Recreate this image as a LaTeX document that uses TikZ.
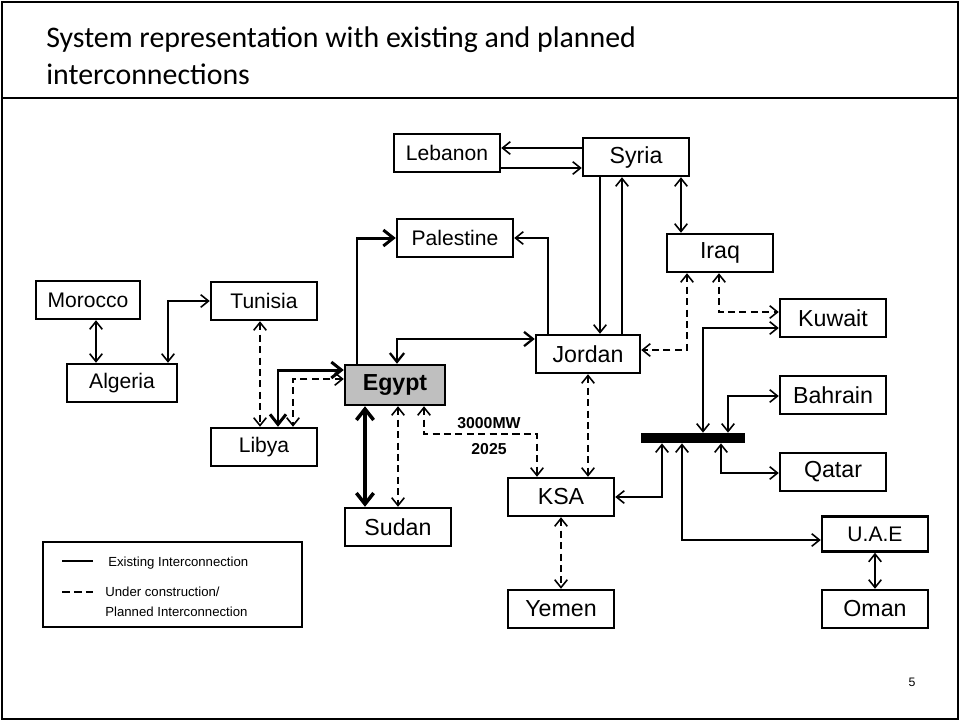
\documentclass[tikz,border=0pt]{standalone}
\usepackage{fontspec}
\setmainfont{Liberation Sans}
\newfontfamily\slidefont{Carlito}
\usetikzlibrary{arrows.meta,calc}
\definecolor{egyptgray}{RGB}{191,191,191}

\begin{document}
\begin{tikzpicture}[x=0.02cm, y=-0.02cm,
	>={Straight Barb[length=3pt 1.6, width=5pt 2.4]},
	country/.style={draw, line width=1.4pt, minimum width=2.12cm, minimum height=0.76cm, inner sep=1pt, font=\fontsize{12}{14}\selectfont},
	big/.style={font=\fontsize{13.2}{15}\selectfont},
	link/.style={line width=0.9pt},
	main/.style={line width=1.7pt},
	plan/.style={line width=0.9pt, dash pattern=on 4pt off 2.5pt},
	lbl/.style={inner sep=1pt, font=\fontsize{9}{10}\selectfont\bfseries},
	legendtext/.style={anchor=west, align=left, inner sep=0pt, font=\fontsize{7.5}{11.4}\selectfont}]
	\useasboundingbox (0,0) rectangle (960,721);
	% slide frame and title
	\draw [line width=1.2pt] (2,2) rectangle (958,719);
	\draw [line width=1.2pt] (2,98) -- (958,98);
	\node [anchor=base west, inner sep=0pt, font=\slidefont\fontsize{17}{21}\selectfont] (title1) at (46,47) {System representation with existing and planned};
	\node [anchor=base west, inner sep=0pt, font=\slidefont\fontsize{17}{21}\selectfont] (title2) at (46,84) {interconnections};

	% countries
	\node [country] (leb) at (447,153) {Lebanon};
	\node [country, big] (syria) at (636,157) {Syria};
	\node [country, minimum width=2.32cm] (pal) at (455,238) {Palestine};
	\node [country, big] (iraq) at (720,253) {Iraq};
	\node [country, minimum width=2.08cm] (mor) at (88,300) {Morocco};
	\node [country] (tun) at (264,301) {Tunisia};
	\node [country, big] (kuw) at (833,318) {Kuwait};
	\node [country, big, minimum width=2.08cm] (jor) at (588,354) {Jordan};
	\node [country, minimum width=2.2cm] (alg) at (122,383) {Algeria};
	\node [country, minimum width=2cm, minimum height=0.8cm, fill=egyptgray, font=\fontsize{13.2}{15}\selectfont\bfseries] (egy) at (395,385) {Egypt};
	\node [country, big] (bah) at (833,395) {Bahrain};
	\node [country] (lib) at (264,447) {Libya};
	\node [country, big] (qat) at (833,472) {Qatar};
	\node [country, big] (ksa) at (561,497) {KSA};
	\node [country, big] (sud) at (398,527) {Sudan};
	\node [country, minimum height=0.7cm] (uae) at (875,534) {U.A.E};
	\node [country, big] (yem) at (561,609) {Yemen};
	\node [country, big] (oman) at (875,609) {Oman};
	\node [fill, minimum width=2.1cm, minimum height=0.2cm, inner sep=0pt] (bus) at (693,438) {};
	\coordinate (mw) at (489,434);

	% existing links
	\draw [link, ->] ($(syria.west)+(0,-9)$) -- ($(leb.east)+(0,-5)$);
	\draw [link, ->] ($(leb.east)+(0,15)$) -- ($(syria.west)+(0,11)$);
	\draw [link, ->] ($(syria.south)+(-36,0)$) -- ($(jor.north)+(12,0)$);
	\draw [link, ->] ($(jor.north)+(34,0)$) -- ($(syria.south)+(-14,0)$);
	\draw [link, <->] ($(syria.south)+(45,0)$) -- ($(iraq.north)+(-39,0)$);
	\draw [main, ->] ($(egy.north)+(-38,0)$) |- (pal.west);
	\draw [link, ->] ($(jor.north)+(-40,0)$) |- (pal.east);
	\draw [line width=1.3pt, <->] ($(egy.north)+(2,0)$) |- ($(jor.west)+(0,-15)$);
	\draw [link, <->] ($(kuw.west)+(0,10)$) -| ($(bus.north)+(10,0)$);
	\draw [link, <->] ($(bah.west)+(0,1)$) -| ($(bus.north)+(35,0)$);
	\draw [link, <->] ($(bus.south)+(28,0)$) |- ($(qat.west)+(0,1)$);
	\draw [link, <->] ($(bus.south)+(-31,0)$) |- (ksa.east);
	\draw [link, <->] ($(bus.south)+(-11,0)$) |- ($(uae.west)+(0,6)$);
	\draw [link, <->] (uae.south) -- (oman.north);
	\draw [line width=2pt, <->] ($(egy.south)+(-30,0)$) -- ($(sud.north)+(-33,0)$);
	\draw [main, <->] ($(egy.west)+(0,-15)$) -| ($(lib.north)+(14,0)$);
	\draw [link, <->] ($(mor.south)+(8,0)$) -- ($(alg.north)+(-26,0)$);
	\draw [link, <->] ($(alg.north)+(46,0)$) |- (tun.west);

	% planned links
	\draw [plan, <->] ($(iraq.south)+(-33,0)$) |- ($(jor.east)+(0,-4)$);
	\draw [plan, <->] ($(iraq.south)+(-1,0)$) |- ($(kuw.west)+(0,-6)$);
	\draw [plan, <->] (ksa.south) -- (yem.north);
	\draw [plan, <->] (jor.south) -- ($(ksa.north)+(27,0)$);
	\draw [plan, <->] ($(egy.south)+(29,0)$) |- (mw) node [lbl, above=1.5pt] (mwtop) {3000MW} node [lbl, below=4pt] (mwyear) {2025} -| ($(ksa.north)+(-24,0)$);
	\draw [plan, <->] ($(egy.south)+(3,0)$) -- (sud.north);
	\draw [plan, <->] ($(egy.west)+(0,-6)$) -| ($(lib.north)+(29,0)$);
	\draw [plan, <->] ($(tun.south)+(-4,0)$) -- ($(lib.north)+(-4,0)$);

	% legend
	\node [draw, line width=0.6pt, minimum width=5.18cm, minimum height=1.7cm, inner sep=0pt] (legend) at (172.5,584.5) {};
	\draw [line width=1.5pt] (62,561) -- (93,561);
	\draw [line width=1.5pt, dash pattern=on 4.5pt off 2.3pt] (62,592) -- (93,592);
	\node [legendtext] (exist) at (108,563) {Existing Interconnection};
	\node [legendtext] (planned) at (105,602) {Under construction/\\Planned Interconnection};

	\node [font=\fontsize{7}{8}\selectfont] (pagenum) at (912,682) {5};
\end{tikzpicture}
\end{document}
